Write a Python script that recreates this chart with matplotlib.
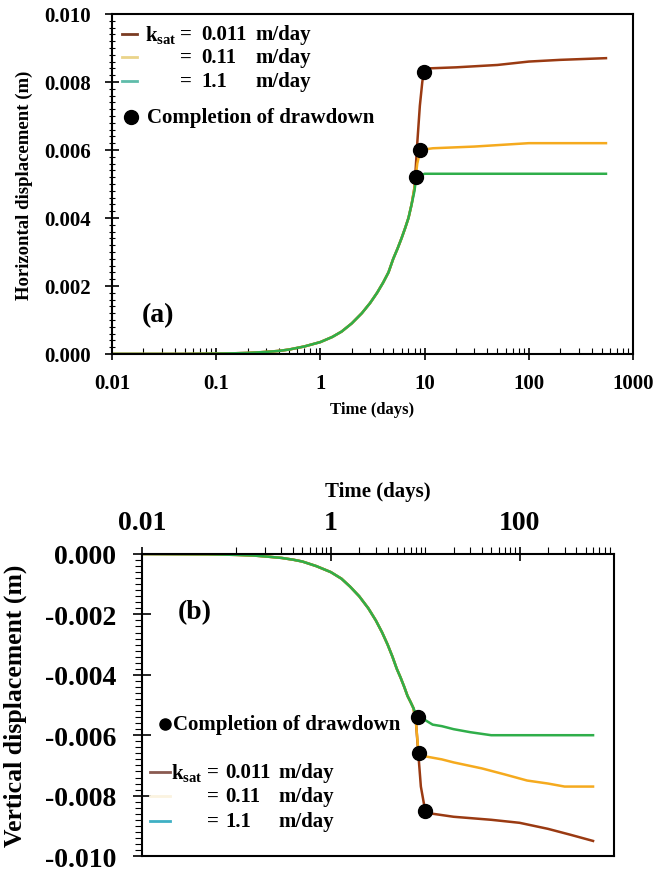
"""Horizontal (a) and vertical (b) displacement vs time for three k_sat values."""

import numpy as np
import matplotlib

matplotlib.use("Agg")
import matplotlib.pyplot as plt
from matplotlib.ticker import FixedLocator, LogLocator, NullFormatter, AutoMinorLocator

plt.rcParams["font.family"] = ["Liberation Serif", "DejaVu Serif"]
plt.rcParams["font.weight"] = "bold"
plt.rcParams["mathtext.fontset"] = "custom"
plt.rcParams["mathtext.rm"] = "Liberation Serif:bold"
plt.rcParams["mathtext.it"] = "Liberation Serif:bold"
plt.rcParams["mathtext.bf"] = "Liberation Serif:bold"

# --- data ---
ksat = ["0.011", "0.11", "1.1"]

# (a) horizontal displacement: shared rising limb, then one branch per k_sat
h_rise_t = [0.01, 0.05, 0.1, 0.15, 0.2, 0.3, 0.4, 0.5, 0.7, 1.0, 1.3, 1.6, 2.0, 2.5,
            3.0, 3.5, 4.0, 4.5, 5.0, 5.5, 6.0, 6.5, 7.0, 7.5]
h_rise_v = [0.0, 0.0, 0.00001, 0.00002, 0.00003, 0.00006, 0.00009, 0.00013, 0.00022,
            0.00035, 0.0005, 0.00066, 0.0009, 0.0012, 0.0015, 0.0018, 0.0021, 0.0024,
            0.0028, 0.0031, 0.0034, 0.0037, 0.0040, 0.0044]
h_tail_t = {
    "0.011": [8.0, 8.5, 9.0, 9.5, 9.8, 11, 20, 50, 100, 200, 550],
    "0.11": [8.0, 8.5, 9.1, 12, 30, 100, 550],
    "1.1": [8.0, 8.3, 10, 100, 550],
}
h_tail_v = {
    "0.011": [0.0049, 0.0062, 0.0073, 0.0080, 0.0083, 0.0084, 0.00843, 0.0085,
              0.0086, 0.00865, 0.0087],
    "0.11": [0.0049, 0.0056, 0.0060, 0.00605, 0.0061, 0.0062, 0.0062],
    "1.1": [0.0048, 0.0052, 0.0053, 0.0053, 0.0053],
}
h_done_t = {"0.011": 9.8, "0.11": 9.1, "1.1": 8.3}
h_done_v = {"0.011": 0.0083, "0.11": 0.0060, "1.1": 0.0052}

# (b) vertical displacement
v_rise_t = [0.01, 0.05, 0.1, 0.15, 0.2, 0.3, 0.4, 0.5, 0.7, 1.0, 1.3, 1.6, 2.0, 2.5,
            3.0, 3.5, 4.0, 4.5, 5.0, 5.5, 6.0, 6.5, 7.0, 7.5]
v_rise_v = [0.0, -0.00001, -0.00003, -0.00005, -0.00008, -0.00013, -0.00019, -0.00025,
            -0.0004, -0.0006, -0.00082, -0.00108, -0.0014, -0.0018, -0.0022, -0.0026,
            -0.003, -0.0034, -0.0038, -0.0041, -0.0044, -0.0047, -0.0049, -0.0051]
v_tail_t = {
    "0.011": [8.0, 8.5, 9.0, 10, 12, 20, 50, 100, 200, 350, 600],
    "0.11": [8.0, 8.5, 10, 15, 20, 40, 70, 120, 200, 300, 600],
    "1.1": [8.0, 8.3, 9, 10, 12, 15, 20, 30, 50, 100, 600],
}
v_tail_v = {
    "0.011": [-0.0056, -0.0067, -0.0077, -0.0085, -0.0086, -0.0087, -0.0088, -0.0089,
              -0.0091, -0.0093, -0.0095],
    "0.11": [-0.0056, -0.0066, -0.0067, -0.0068, -0.0069, -0.0071, -0.0073, -0.0075,
             -0.0076, -0.0077, -0.0077],
    "1.1": [-0.0053, -0.0054, -0.00545, -0.0055, -0.00565, -0.0057, -0.0058, -0.0059,
            -0.0060, -0.0060, -0.0060],
}
v_done_t = {"0.011": 10, "0.11": 8.5, "1.1": 8.3}
v_done_v = {"0.011": -0.0085, "0.11": -0.0066, "1.1": -0.0054}

colors = {"0.011": "#9a3a12", "0.11": "#f5aa1e", "1.1": "#2fae4a"}

fig = plt.figure(figsize=(6.7, 8.7), dpi=100)
ax1 = fig.add_axes([0.1672, 0.5920, 0.7776, 0.3908])
ax2 = fig.add_axes([0.2119, 0.0149, 0.7045, 0.3472])


def curve(rise_t, rise_v, tail_t, tail_v):
    return list(rise_t) + list(tail_t), list(rise_v) + list(tail_v)


# --- (a) ---
for k in ksat:
    t, v = curve(h_rise_t, h_rise_v, h_tail_t[k], h_tail_v[k])
    ax1.plot(t, v, color=colors[k], lw=1.8, zorder=2)
for k in ksat:
    ax1.plot(h_done_t[k], h_done_v[k], "o", color="black", ms=10, zorder=3)

ax1.set_xscale("log")
ax1.set_xlim(0.01, 1000)
ax1.set_ylim(0, 0.010)
ax1.set_yticks([0, 0.002, 0.004, 0.006, 0.008, 0.010])
ax1.set_yticklabels(["0.000", "0.002", "0.004", "0.006", "0.008", "0.010"])
ax1.set_xticks([0.01, 0.1, 1, 10, 100, 1000])
ax1.set_xticklabels(["0.01", "0.1", "1", "10", "100", "1000"])
ax1.xaxis.set_minor_locator(LogLocator(base=10, subs=np.arange(2, 10), numticks=20))
ax1.xaxis.set_minor_formatter(NullFormatter())
ax1.yaxis.set_minor_locator(AutoMinorLocator(10))
ax1.tick_params(axis="y", which="major", direction="inout", length=10, width=1.2,
                labelsize=15, pad=10)
ax1.tick_params(axis="y", which="minor", direction="inout", length=5, width=0.8)
ax1.tick_params(axis="x", which="major", direction="inout", length=9, width=1.2,
                labelsize=15, pad=9)
ax1.tick_params(axis="x", which="minor", direction="in", length=4, width=0.8)
ax1.set_xlabel("Time (days)", fontsize=12, fontweight="bold", labelpad=6)
ax1.set_ylabel("Horizontal displacement (m)", fontsize=13.5, fontweight="bold")
ax1.yaxis.set_label_coords(-0.152, 0.5)
for s in ax1.spines.values():
    s.set_linewidth(1.5)

ax1.text(0.088, 0.115, "(a)", transform=ax1.transAxes, fontsize=20,
         fontweight="bold", ha="center", va="center")

# legend (a), drawn as text rows so the "=" signs line up
leg_a_y = [0.941, 0.874, 0.803]
leg_a_handle = ["#7a3b22", "#ead48a", "#5fbcaa"]
for i, k in enumerate(ksat):
    y = leg_a_y[i]
    ax1.plot([0.019, 0.048], [y, y], color=leg_a_handle[i], lw=2,
             transform=ax1.transAxes)
    if i == 0:
        ax1.text(0.063, y, r"k$_{\mathrm{sat}}$", transform=ax1.transAxes,
                 fontsize=15, ha="left", va="center")
    ax1.text(0.131, y, "=", transform=ax1.transAxes, fontsize=15, ha="left", va="center")
    ax1.text(0.172, y, k, transform=ax1.transAxes, fontsize=15, ha="left", va="center")
    ax1.text(0.276, y, "m/day", transform=ax1.transAxes, fontsize=15, ha="left", va="center")
ax1.plot([0.036], [0.697], "o", color="black", ms=10, transform=ax1.transAxes)
ax1.text(0.067, 0.697, "Completion of drawdown", transform=ax1.transAxes,
         fontsize=15, ha="left", va="center")

# --- (b) ---
for k in ksat:
    t, v = curve(v_rise_t, v_rise_v, v_tail_t[k], v_tail_v[k])
    ax2.plot(t, v, color=colors[k], lw=1.8, zorder=2)
for k in ksat:
    ax2.plot(v_done_t[k], v_done_v[k], "o", color="black", ms=10, zorder=3)

ax2.set_xscale("log")
ax2.set_xlim(0.01, 1000)
ax2.set_ylim(-0.010, 0)
ax2.xaxis.tick_top()
ax2.xaxis.set_label_position("top")
ax2.xaxis.set_major_locator(FixedLocator([0.01, 1, 100]))
ax2.set_xticklabels(["0.01", "1", "100"])
minor_b = [d * s for d in (0.1, 1, 10, 100) for s in range(1, 10)]
ax2.xaxis.set_minor_locator(FixedLocator(minor_b))
ax2.xaxis.set_minor_formatter(NullFormatter())
ax2.set_yticks([0, -0.002, -0.004, -0.006, -0.008, -0.010])
ax2.set_yticklabels(["0.000", "-0.002", "-0.004", "-0.006", "-0.008", "-0.010"])
ax2.yaxis.set_minor_locator(AutoMinorLocator(10))
ax2.tick_params(axis="y", which="major", direction="inout", length=13, width=1.2,
                labelsize=20, pad=12)
ax2.tick_params(axis="y", which="minor", direction="out", length=5, width=0.8)
ax2.tick_params(axis="x", which="major", direction="inout", length=10, width=1.2,
                labelsize=20, pad=9)
ax2.tick_params(axis="x", which="minor", direction="out", length=5, width=0.8)
ax2.set_xlabel("Time (days)", fontsize=15, fontweight="bold", labelpad=10)
ax2.set_ylabel("Vertical displacement (m)", fontsize=18.5, fontweight="bold")
ax2.yaxis.set_label_coords(-0.244, 0.5)
for s in ax2.spines.values():
    s.set_linewidth(1.5)

ax2.text(0.112, 0.808, "(b)", transform=ax2.transAxes, fontsize=20,
         fontweight="bold", ha="center", va="center")

leg_b_y = [0.278, 0.199, 0.116]
leg_b_handle = ["#8a5a50", "#fbf3e0", "#3fb0c4"]
for i, k in enumerate(ksat):
    y = leg_b_y[i]
    ax2.plot([0.017, 0.059], [y, y], color=leg_b_handle[i], lw=2,
             transform=ax2.transAxes)
    if i == 0:
        ax2.text(0.061, y, r"k$_{\mathrm{sat}}$", transform=ax2.transAxes,
                 fontsize=15, ha="left", va="center")
    ax2.text(0.137, y, "=", transform=ax2.transAxes, fontsize=15, ha="left", va="center")
    ax2.text(0.177, y, k, transform=ax2.transAxes, fontsize=15, ha="left", va="center")
    ax2.text(0.29, y, "m/day", transform=ax2.transAxes, fontsize=15, ha="left", va="center")
ax2.plot([0.049], [0.437], "o", color="black", ms=8, transform=ax2.transAxes)
ax2.text(0.066, 0.437, "Completion of drawdown", transform=ax2.transAxes,
         fontsize=15, ha="left", va="center")

fig.savefig("out.png", dpi=100)
